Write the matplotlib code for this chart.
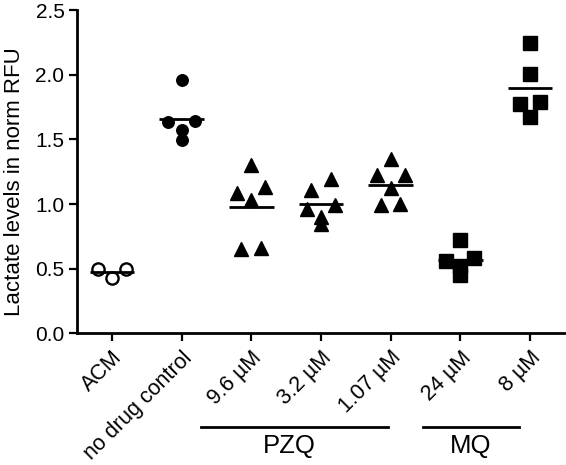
"""Lactate levels per treatment, scatter dot plot with mean lines."""

import matplotlib
matplotlib.use("Agg")
import matplotlib.pyplot as plt
import matplotlib.transforms as mtransforms
import numpy as np

# data
categories = ["ACM", "no drug control", "9.6 \u00b5M", "3.2 \u00b5M",
              "1.07 \u00b5M", "24 \u00b5M", "8 \u00b5M"]
acm = [0.495, 0.495, 0.425]
no_drug = [1.96, 1.644, 1.636, 1.572, 1.495]
pzq_96 = [1.30, 1.13, 1.09, 1.03, 0.66, 0.65]
pzq_32 = [1.191, 1.108, 0.992, 0.959, 0.902, 0.845]
pzq_107 = [1.346, 1.224, 1.224, 1.126, 0.998, 0.992]
mq_24 = [0.722, 0.58, 0.559, 0.523, 0.451]
mq_8 = [2.248, 2.005, 1.791, 1.773, 1.675]
groups = [acm, no_drug, pzq_96, pzq_32, pzq_107, mq_24, mq_8]
markers = ["o", "o", "^", "^", "^", "s", "s"]
drug_groups = [("PZQ", 2, 4), ("MQ", 5, 6)]
yticks = [0.0, 0.5, 1.0, 1.5, 2.0, 2.5]


def spread(values, row_h=0.11):
    """Put close values in a row and spread them sideways, GraphPad style."""
    vals = np.asarray(values, dtype=float)
    order = np.argsort(-vals, kind="stable")
    offsets = np.zeros(len(vals))
    rows, cur = [], [order[0]]
    for idx in order[1:]:
        if vals[cur[0]] - vals[idx] < row_h:
            cur.append(idx)
        else:
            rows.append(cur)
            cur = [idx]
    rows.append(cur)
    for row in rows:
        n = len(row)
        if n == 1:
            continue
        half = min(0.2, 0.14 * (n - 1))
        slots = list(np.linspace(-half, half, n))
        # highest goes right, next left, lowest ends in the middle
        picks = []
        while slots:
            picks.append(slots.pop())
            if slots:
                picks.append(slots.pop(0))
        for idx, pos in zip(row, picks):
            offsets[idx] = pos
    return offsets


plt.rcParams["font.family"] = ["Liberation Sans", "DejaVu Sans"]

fig = plt.figure(figsize=(5.66, 4.65), dpi=100)
ax = fig.add_axes([0.136, 0.283, 0.862, 0.695])

for i, (vals, mk) in enumerate(zip(groups, markers)):
    x = i + spread(vals)
    if i == 0:
        ax.plot(x, vals, mk, ms=8.8, mfc="white", mec="black", mew=1.7,
                ls="none", zorder=3)
    else:
        size = 8.3 if mk == "o" else 9.4
        ax.plot(x, vals, mk, ms=size, color="black", ls="none", zorder=3)
    ax.hlines(np.mean(vals), i - 0.32, i + 0.32, color="black", lw=2.0,
              zorder=4)

ax.set_xlim(-0.5, 6.5)
ax.set_ylim(0, 2.5)
ax.set_yticks(yticks)
ax.set_yticklabels([f"{t:.1f}" for t in yticks], fontsize=15)
ax.set_xticks(range(len(categories)))
ax.set_xticklabels(categories, rotation=45, ha="right",
                   rotation_mode="anchor", fontsize=15.5)
ax.set_ylabel("Lactate levels in norm RFU", fontsize=16)
ax.yaxis.set_label_coords(-0.106, 0.47)

for side in ["top", "right"]:
    ax.spines[side].set_visible(False)
for side in ["left", "bottom"]:
    ax.spines[side].set_linewidth(2.0)
ax.tick_params(direction="out", length=6, width=1.6, pad=3)
ax.tick_params(axis="x", pad=4)

# drug group brackets under the tick labels
trans = mtransforms.blended_transform_factory(ax.transData, fig.transFigure)
for name, first, last in drug_groups:
    if name == "PZQ":
        x0, x1, shift = first - 0.726, last - 0.035, -0.08
    else:
        x0, x1, shift = first - 0.536, last - 0.157, 0.0
    ax.plot([x0, x1], [0.082, 0.082], color="black", lw=2.0,
            transform=trans, clip_on=False)
    ax.text((x0 + x1) / 2 + shift, 0.025, name, transform=trans,
            ha="center", va="baseline", fontsize=18.5)

fig.savefig("out.png", dpi=100)
plt.close(fig)
